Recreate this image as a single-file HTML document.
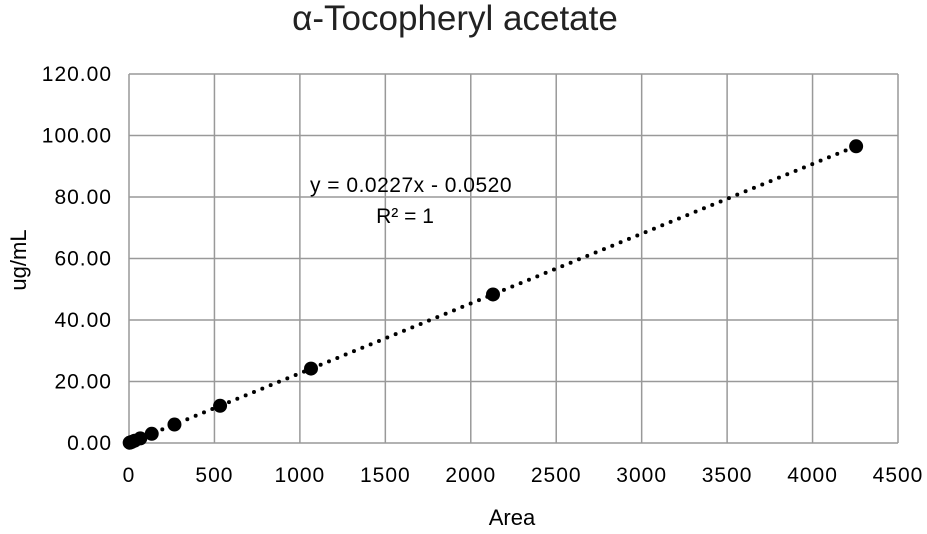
<!DOCTYPE html>
<html><head><meta charset="utf-8"><style>
body{margin:0;background:#fff;font-family:"Liberation Sans","DejaVu Sans",sans-serif}
</style></head><body>
<svg id="chart" width="927" height="529" xmlns="http://www.w3.org/2000/svg">
<text x="455" y="30" font-size="35" text-anchor="middle" fill="#222">α-Tocopheryl acetate</text>
<g id="grid"></g><g id="ticks"></g><g id="marks"></g>
<text x="411" y="192" font-size="21" letter-spacing="0.5" text-anchor="middle" fill="#000">y = 0.0227x - 0.0520</text>
<text x="405" y="223" font-size="21" text-anchor="middle" fill="#000">R² = 1</text>
<text x="512" y="525" font-size="22" text-anchor="middle" fill="#000">Area</text>
<text transform="translate(26,260) rotate(-90)" font-size="22" text-anchor="middle" fill="#000">ug/mL</text>
</svg>
<script>
const xTicks=[0,500,1000,1500,2000,2500,3000,3500,4000,4500];
const yTicks=[0,20,40,60,80,100,120];
const yTickLabels=["0.00","20.00","40.00","60.00","80.00","100.00","120.00"];
const areas=[4,8,16,33,66,133,266,533,1065,2130,4255];
const concs=[0.09,0.18,0.36,0.75,1.5,3.0,6.0,12.1,24.2,48.3,96.5];
const slope=0.0227, intercept=-0.0520;
const NS="http://www.w3.org/2000/svg";
const X0=129,X1=898,Y0=443,Y1=74;
const sx=v=>X0+(v-0)/(4500)*(X1-X0);
const sy=v=>Y0-(v/120)*(Y0-Y1);
function mk(t,a,p){const e=document.createElementNS(NS,t);for(const k in a)e.setAttribute(k,a[k]);p.appendChild(e);return e;}
const g=document.getElementById('grid'),tk=document.getElementById('ticks'),m=document.getElementById('marks');
xTicks.forEach(v=>{
 const l=mk('line',{x1:sx(v),x2:sx(v),y1:Y1,y2:Y0,stroke:'#999','stroke-width':1.5},g);
 
 
 const t=mk('text',{x:sx(v),y:482,'font-size':21,'letter-spacing':1,'text-anchor':'middle',fill:'#000'},tk);t.textContent=v;
 
 
});
yTicks.forEach((v,i)=>{
 const l=mk('line',{x1:X0,x2:X1,y1:sy(v),y2:sy(v),stroke:'#999','stroke-width':1.5},g);
 
 
 const t=mk('text',{x:112,y:sy(v)+7,'font-size':21,'letter-spacing':1,'text-anchor':'end',fill:'#000'},tk);t.textContent=yTickLabels[i];
 
 
});
const xe=Math.max(...areas);
const tl=mk('line',{x1:sx(0),y1:sy(Math.max(0,intercept)),x2:sx(xe),y2:sy(slope*xe+intercept),stroke:'#000','stroke-width':4,'stroke-dasharray':'0 9','stroke-linecap':'round'},m);


areas.forEach((a,i)=>{
 const c=mk('circle',{cx:sx(a),cy:sy(concs[i]),r:7,fill:'#000'},m);
 
 
});
</script>
</body></html>
